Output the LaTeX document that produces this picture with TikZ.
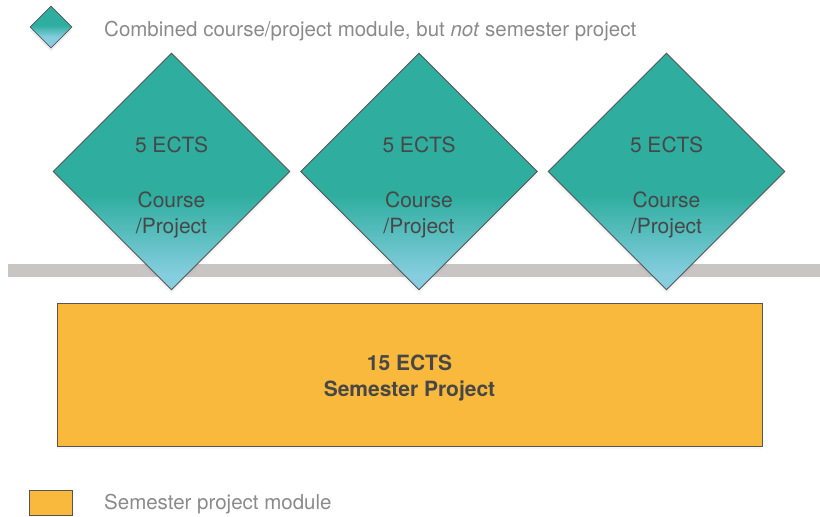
\documentclass[tikz,border=0pt]{standalone}
\usepackage{fontspec}
\setmainfont{TeX Gyre Heros}
\usepackage{tikz}
\usetikzlibrary{shapes.geometric,positioning,shadows}

\definecolor{ectsteal}{HTML}{2FAE9F}
\definecolor{ectsblue}{HTML}{86CEDF}
\definecolor{semorange}{HTML}{F9B93C}
\definecolor{bargray}{HTML}{C9C5C5}
\definecolor{edgegray}{HTML}{555555}
\definecolor{textdark}{HTML}{474747}
\definecolor{textlight}{HTML}{8A8A8A}

\pgfdeclareverticalshading{ectsshade}{100bp}{color(0bp)=(ectsblue); color(28bp)=(ectsblue); color(45bp)=(ectsteal); color(100bp)=(ectsteal)}
\pgfdeclareverticalshading{ectsshadesmall}{100bp}{color(0bp)=(ectsblue); color(38bp)=(ectsblue); color(52bp)=(ectsteal); color(100bp)=(ectsteal)}

\begin{document}
\begin{tikzpicture}[x=1pt,y=-1pt]

\tikzset{module/.style={diamond, aspect=1, draw=edgegray, line width=0.9pt,
           shading=ectsshade, inner sep=0pt, minimum size=237pt,
           drop shadow={shadow xshift=0pt, shadow yshift=-4pt, opacity=.08}},
         semproject/.style={rectangle, draw=edgegray, line width=1pt, fill=semorange,
           inner sep=0pt, minimum width=705pt, minimum height=143pt,
           drop shadow={shadow xshift=0pt, shadow yshift=-3pt, opacity=.06}},
         modtext/.style={text=textdark, font=\fontsize{21}{26}\selectfont, align=center},
         legendtext/.style={text=textlight, font=\fontsize{20.5}{24}\selectfont, anchor=base west, inner sep=0pt}}

\useasboundingbox (0,0) rectangle (820,517);

% gray bar behind the modules
\fill[bargray] (8,264) rectangle (820,277);

% legend
\node[module, shading=ectsshadesmall, minimum size=42pt, line width=0.8pt, drop shadow={shadow xshift=0pt, shadow yshift=-3pt, opacity=.08}] (legmod) at (51,27) {};
\node[legendtext] (legmodtext) at (104,36) {Combined course/project module, but \textit{not} semester project};

\node[semproject, minimum width=43pt, minimum height=25pt, drop shadow={opacity=0}] (legsem) at (50.5,502.5) {};
\node[legendtext] (legsemtext) at (104,509) {Semester project module};

% course/project modules
\node[module] (modA) at (171.5,171.5) {};
\node[module] (modB) at (419,171.5) {};
\node[module] (modC) at (666.5,171.5) {};

\node[modtext, yshift=26.5pt] (ectsA) at (modA.center) {5 ECTS};
\node[modtext, yshift=-43.5pt] (nameA) at (modA.center) {Course\\/Project};
\node[modtext, yshift=26.5pt] (ectsB) at (modB.center) {5 ECTS};
\node[modtext, yshift=-43.5pt] (nameB) at (modB.center) {Course\\/Project};
\node[modtext, yshift=26.5pt] (ectsC) at (modC.center) {5 ECTS};
\node[modtext, yshift=-43.5pt] (nameC) at (modC.center) {Course\\/Project};

% semester project
\node[semproject] (semester) at (409.5,374.5) {};
\node[modtext, font=\fontsize{21}{26}\selectfont\bfseries, yshift=-3.5pt] (semtext) at (semester.center) {15 ECTS\\Semester Project};

\end{tikzpicture}
\end{document}
